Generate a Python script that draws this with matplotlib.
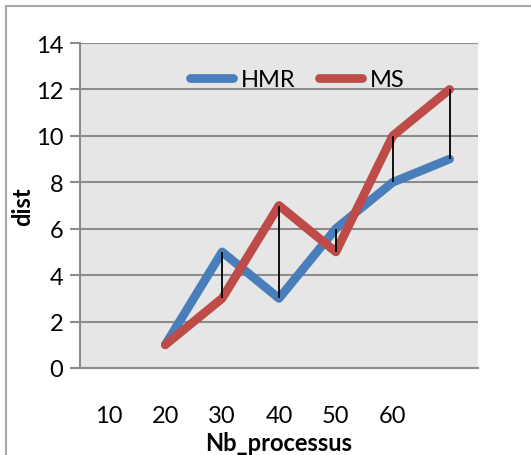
import numpy as np
import matplotlib.pyplot as plt
from matplotlib.lines import Line2D

plt.rcParams.update({
    "font.family": ["Lato", "DejaVu Sans"],
})

# categories on the x axis (last one has no label)
categories = ["10", "20", "30", "40", "50", "60", ""]
hmr = [np.nan, 1, 5, 3, 6, 8, 9]
ms = [np.nan, 1, 3, 7, 5, 10, 12]

blue = "#4a7ebb"
red = "#be4b48"
grid_col = "#8c8c8c"

fig = plt.figure(figsize=(5.31, 4.56), dpi=100)
ax = fig.add_axes([80 / 531, 1 - 369 / 456, 398 / 531, 325 / 456])
ax.set_facecolor("#e6e6e6")

x = np.arange(len(categories)) + 0.5
ax.plot(x, hmr, color=blue, lw=6.3, solid_capstyle="round", solid_joinstyle="round", label="HMR", zorder=3)
ax.plot(x, ms, color=red, lw=6.3, solid_capstyle="round", solid_joinstyle="round", label="MS", zorder=4)

# high-low lines between series
lo = np.fmin(hmr, ms)
hi = np.fmax(hmr, ms)
ok = ~np.isnan(lo)
ax.vlines(x[ok], lo[ok], hi[ok], color="black", lw=1.3, zorder=5)

ax.set_xlim(0, len(categories))
ax.set_ylim(0, 14)
ax.set_yticks(np.arange(0, 15, 2))
ax.set_xticks(x)
ax.set_xticklabels(categories)
ax.tick_params(axis="x", length=0, pad=27, labelsize=17)
ax.tick_params(axis="y", length=7, width=1.5, color=grid_col, pad=5, labelsize=17)

ax.yaxis.grid(True, color=grid_col, lw=1.5)
ax.set_axisbelow(True)
for s in ["top", "right"]:
    ax.spines[s].set_visible(False)
for s in ["left", "bottom"]:
    ax.spines[s].set_color(grid_col)
    ax.spines[s].set_linewidth(1.5)

ax.set_xlabel("Nb_processus", fontsize=17, fontweight="bold", labelpad=3)
ax.set_ylabel("dist", fontsize=17, fontweight="bold", labelpad=1)

ax.legend(loc="upper center", bbox_to_anchor=(0.545, 0.985), ncol=2, frameon=False,
          fontsize=17, handlelength=1.85, columnspacing=1.0, handletextpad=0.3)

# outer chart border (left and top edges)
fig.add_artist(Line2D([5.5 / 531, 5.5 / 531], [0, 1 - 7 / 456], color="#a6a6a6", lw=1.5,
                      transform=fig.transFigure))
fig.add_artist(Line2D([5.5 / 531, 1], [1 - 7 / 456, 1 - 7 / 456], color="#a6a6a6", lw=1.5,
                      transform=fig.transFigure))

fig.savefig("out.png", dpi=100)
